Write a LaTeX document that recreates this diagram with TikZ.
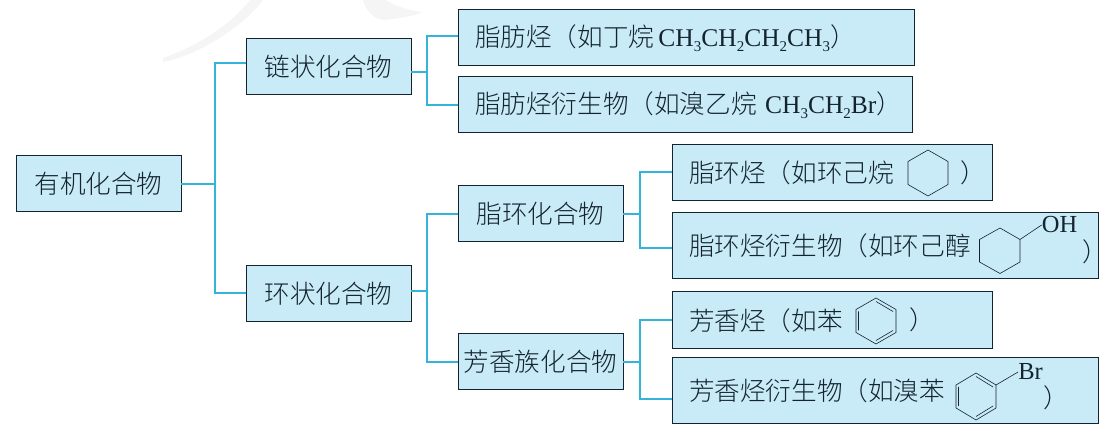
\documentclass[tikz,border=0pt]{standalone}
\usepackage{fontspec}
\setmainfont{Liberation Serif}
\newfontfamily\cjk{Noto Sans CJK SC}[UprightFont=* Light]
\definecolor{boxfill}{HTML}{C9EBF8}
\definecolor{boxline}{HTML}{14242E}
\definecolor{linkc}{HTML}{35B4DA}
\newcommand{\chemsub}[1]{\raisebox{-0.22em}{\fontsize{15}{15}\selectfont #1}}
\newcommand{\chem}[1]{{\rmfamily\fontsize{25.5}{28}\selectfont #1}}
\newcommand{\chemlab}[1]{{\rmfamily\fontsize{24.5}{28}\selectfont #1}}
\tikzset{
  box/.style={draw=boxline,line width=1pt,fill=boxfill,anchor=north west,inner sep=0pt,
    outer sep=0pt,font=\cjk\fontsize{25.6}{28}\selectfont},
  ctrbox/.style={box,align=center,minimum width=165pt,minimum height=56pt},
  link/.style={draw=linkc,line width=2pt},
  ring/.style={draw=boxline,line width=0.6pt,line join=miter},
  lbl/.style={inner sep=0pt,font=\cjk\fontsize{25.6}{28}\selectfont,text=boxline},
  chemlbl/.style={inner sep=0pt,text=boxline}
}
\begin{document}
\begin{tikzpicture}[x=1pt,y=-1pt,text=boxline]
\useasboundingbox (0,0) rectangle (1112,430);
% faint background print
\fill[black!4] (163,62) .. controls (200,55) and (245,25) .. (263,0) -- (250,0) .. controls (230,25) and (200,45) .. (163,58) -- cycle;
\fill[black!4] (363,0) .. controls (366,12) and (375,20) .. (385,20) .. controls (400,18) and (420,15) .. (422,12) .. controls (405,10) and (395,5) .. (385,0) -- cycle;
% connectors (drawn first, so that the boxes' outlines lie over their ends)
\node[ctrbox] (root) at (16,156) {有机化合物};
\node[ctrbox] (chain) at (246,39) {\raisebox{-1pt}{链状化合物}};
\node[ctrbox] (cyc) at (246,266) {环状化合物};
\node[ctrbox] (ali) at (458,186) {脂环化合物};
\node[ctrbox] (aro) at (458,334) {芳香族化合物};
\node[box,minimum width=456pt,minimum height=56pt,text width=422pt,inner xsep=17pt] (fat) at (458,10)
  {\raisebox{-3pt}{脂肪烃（如丁烷\,\chem{CH\chemsub{3}CH\chemsub{2}CH\chemsub{2}CH\chemsub{3}}）}};
\node[box,minimum width=454pt,minimum height=56pt,text width=420pt,inner xsep=17pt] (fatd) at (458,77)
  {脂肪烃衍生物（如溴乙烷\,\,\chem{CH\chemsub{3}CH\chemsub{2}Br}）};
\node[box,minimum width=320pt,minimum height=56pt,text width=286pt,inner xsep=17pt] (alih) at (672,145) {脂环烃（如环己烷};
\node[box,minimum width=426pt,minimum height=66pt,text width=392pt,inner xsep=17pt] (alid) at (672,213) {\raisebox{-6pt}{脂环烃衍生物（如环己醇}};
\node[box,minimum width=320pt,minimum height=57pt,text width=286pt,inner xsep=17pt] (aroh) at (672,292) {芳香烃（如苯};
\node[box,minimum width=426pt,minimum height=66pt,text width=392pt,inner xsep=17pt] (arod) at (672,358) {\raisebox{-6pt}{芳香烃衍生物（如溴苯}};
\coordinate (j1) at (215,184);
\coordinate (j2) at (427,72);
\coordinate (j3) at (427,291);
\coordinate (j4) at (640,214);
\coordinate (j5) at (640,362);
\draw[link] (root.east) -- (j1);
\draw[link] ([yshift=4pt]chain.west) -| (j1) |- ([yshift=1pt]cyc.west);
\draw[link] (chain.east |- j2) -- (j2);
\draw[link] ([yshift=2pt]fat.west) -| (j2) |- (fatd.west);
\draw[link] (cyc.east |- j3) -- (j3);
\draw[link] (ali.west) -| (j3) |- (aro.west);
\draw[link] (ali.east) -- (j4);
\draw[link] ([yshift=1pt]alih.west) -| (j4) |- ([yshift=-2pt]alid.west);
\draw[link] (aro.east) -- (j5);
\draw[link] ([yshift=0.5pt]aroh.west) -| (j5) |- ([yshift=-8pt]arod.west);
% cyclohexane
\draw[ring] (928,150) -- (948,161.5) -- (948,184.5) -- (928,196) -- (908,184.5) -- (908,161.5) -- cycle;
\node[lbl] (p1) at (973,173) {）};
% cyclohexanol
\draw[ring] (1000,228) -- (1020,239.5) -- (1020,262) -- (1000,273.5) -- (979.5,262) -- (979.5,239.5) -- cycle;
\node[chemlbl] (oh) at (1059.5,225) {\chemlab{OH}};
\draw[ring] (1020,239.5) -- (oh.west);
\node[lbl] (p2) at (1095,252) {）};
% benzene
\draw[ring] (876,298) -- (896,309.5) -- (896,332.5) -- (876,344) -- (856,332.5) -- (856,309.5) -- cycle;
\draw[ring] (858.5,311.5) -- (858.5,330.5) (876,340.5) -- (893,330.5) (876,301.5) -- (893,311.5);
\node[lbl] (p3) at (922,320) {）};
% bromobenzene
\draw[ring] (976,373) -- (996,385) -- (996,408) -- (976,420) -- (956,408) -- (956,385) -- cycle;
\draw[ring] (958.5,387) -- (958.5,406) (976,416.5) -- (993,406) (976,376.5) -- (993,387);
\node[chemlbl] (br) at (1030.5,372) {\chemlab{Br}};
\draw[ring] (996,385) -- (br.west);
\node[lbl] (p4) at (1056,398) {）};
\end{tikzpicture}
\end{document}
